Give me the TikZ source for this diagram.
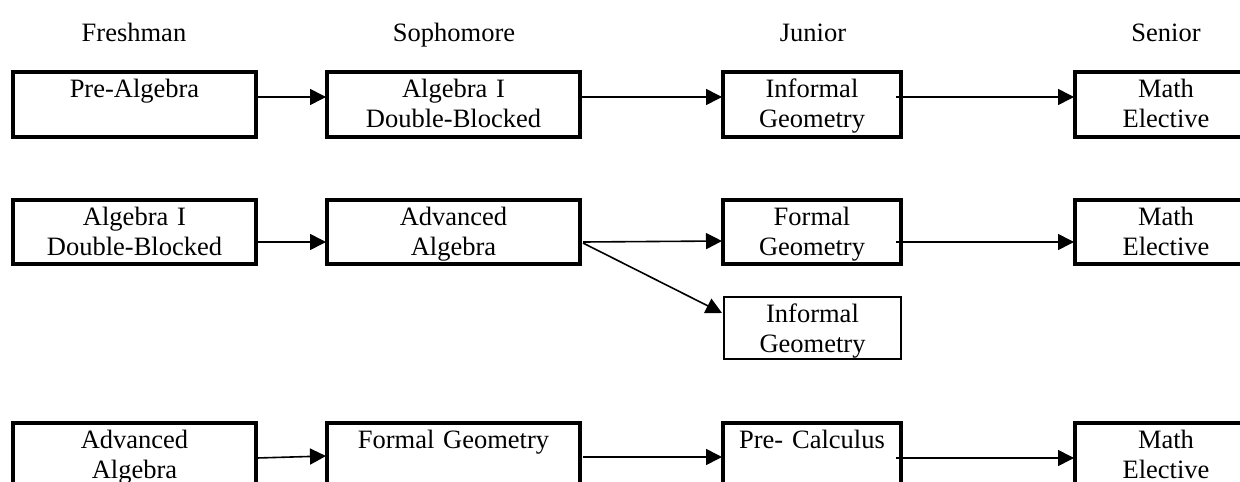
\documentclass[tikz,border=0pt]{standalone}
\usepackage{fontspec}
\setmainfont{Liberation Serif}
\usetikzlibrary{arrows.meta}
\begin{document}
\begin{tikzpicture}[x=1pt,y=-1pt,
  font=\fontsize{26.5}{30}\selectfont,
  box/.style={draw, line width=3.2pt, inner sep=0pt, outer sep=0pt, anchor=north west},
  thinbox/.style={draw, line width=1.9pt, inner sep=0pt, outer sep=0pt, anchor=north west},
  txt/.style={anchor=base, inner sep=0pt, align=center},
  head/.style={anchor=base, inner sep=0pt},
  arr/.style={line width=1.6pt, -{Triangle[length=16pt,width=16pt]}}]
\useasboundingbox (0,0) rectangle (1240,482);
\clip (0,0) rectangle (1240,482);
\fill[white] (0,0) rectangle (1240,482);

% headers
\node[head] (h1) at (134,41) {Freshman};
\node[head] (h2) at (454,41) {Sophomore};
\node[head] (h3) at (813,41) {Junior};
\node[head] (h4) at (1166,41) {Senior};

% row 1
\node[box, minimum width=243pt, minimum height=65pt] (a1) at (13,72) {};
\node[box, minimum width=253pt, minimum height=65pt] (a2) at (327,72) {};
\node[box, minimum width=178pt, minimum height=65pt] (a3) at (723,72) {};
\node[box, minimum width=182pt, minimum height=65pt] (a4) at (1075,72) {};
\node[txt, text width=243pt] (ta1) at ([yshift=-25pt]a1.north) {Pre-Algebra};
\node[txt, text width=253pt] (ta2) at ([yshift=-25pt]a2.north) {Algebra I\\Double-Blocked};
\node[txt, text width=178pt] (ta3) at ([yshift=-25pt]a3.north) {Informal\\Geometry};
\node[txt, text width=182pt] (ta4) at ([yshift=-25pt]a4.north) {Math\\Elective};

% row 2
\node[box, minimum width=243pt, minimum height=64pt] (b1) at (13,200) {};
\node[box, minimum width=253pt, minimum height=64pt] (b2) at (327,200) {};
\node[box, minimum width=178pt, minimum height=64pt] (b3) at (723,200) {};
\node[box, minimum width=182pt, minimum height=64pt] (b4) at (1075,200) {};
\node[thinbox, minimum width=177pt, minimum height=62pt] (c3) at (724,297) {};
\node[txt, text width=243pt] (tb1) at ([yshift=-25pt]b1.north) {Algebra I\\Double-Blocked};
\node[txt, text width=253pt] (tb2) at ([yshift=-25pt]b2.north) {Advanced\\Algebra};
\node[txt, text width=178pt] (tb3) at ([yshift=-25pt]b3.north) {Formal\\Geometry};
\node[txt, text width=182pt] (tb4) at ([yshift=-25pt]b4.north) {Math\\Elective};
\node[txt, text width=177pt] (tc3) at ([yshift=-25pt]c3.north) {Informal\\Geometry};

% row 3
\node[box, minimum width=243pt, minimum height=75pt] (d1) at (13,423) {};
\node[box, minimum width=253pt, minimum height=75pt] (d2) at (327,423) {};
\node[box, minimum width=178pt, minimum height=75pt] (d3) at (723,423) {};
\node[box, minimum width=182pt, minimum height=75pt] (d4) at (1075,423) {};
\node[txt, text width=243pt] (td1) at ([yshift=-25pt]d1.north) {Advanced\\Algebra};
\node[txt, text width=253pt] (td2) at ([yshift=-25pt]d2.north) {Formal Geometry};
\node[txt, text width=178pt] (td3) at ([yshift=-25pt]d3.north) {Pre- Calculus};
\node[txt, text width=182pt] (td4) at ([yshift=-25pt]d4.north) {Math\\Elective};

% connectors row 1
\draw[arr] ([shift={(1,25)}]a1.north east) -- ([shift={(-1,25)}]a2.north west);
\draw[arr] ([shift={(1,25)}]a2.north east) -- ([shift={(-1,25)}]a3.north west);
\draw[arr] ([shift={(-5,25)}]a3.north east) -- ([shift={(-1,25)}]a4.north west);
% connectors row 2
\draw[arr] ([shift={(1,42)}]b1.north east) -- ([shift={(-1,42)}]b2.north west);
\draw[arr] ([shift={(3,42)}]b2.north east) -- ([shift={(-1,41)}]b3.north west);
\draw[arr] ([shift={(3,43)}]b2.north east) -- ([shift={(-2,16)}]c3.north west);
\draw[arr] ([shift={(-5,42)}]b3.north east) -- ([shift={(-1,42)}]b4.north west);
% connectors row 3
\draw[arr] ([shift={(1,35)}]d1.north east) -- ([shift={(-1,33)}]d2.north west);
\draw[arr] ([shift={(3,34)}]d2.north east) -- ([shift={(-1,34)}]d3.north west);
\draw[arr] ([shift={(-5,35)}]d3.north east) -- ([shift={(-1,35)}]d4.north west);
\end{tikzpicture}
\end{document}
